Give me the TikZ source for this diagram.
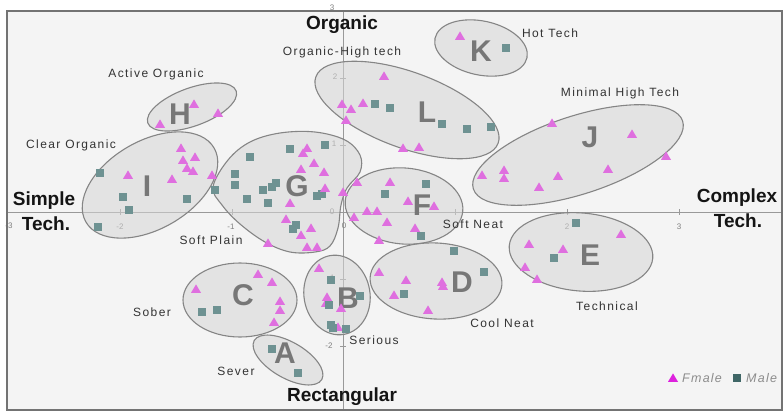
\documentclass[tikz,border=0pt]{standalone}
\usepackage{fontspec}
\setmainfont{Liberation Sans}
\newfontfamily\lblfont[LetterSpace=12]{Liberation Sans}
\newfontfamily\legfont[LetterSpace=10]{Liberation Sans}
\definecolor{tric}{HTML}{DF6FDF}
\definecolor{sqc}{HTML}{6E9292}
\definecolor{trileg}{HTML}{DD22DD}
\definecolor{sqleg}{HTML}{3F6666}
\definecolor{ellc}{HTML}{858585}
\definecolor{ellfill}{HTML}{D6D6D6}
\definecolor{plotbg}{HTML}{F4F4F4}
\definecolor{clug}{HTML}{777777}
\newcommand\ptT[2]{\fill[tric] (#1,#2) +(0,-4.6) -- +(5,3.8) -- +(-5,3.8) -- cycle;}
\newcommand\ptS[2]{\fill[sqc] (#1,#2) +(-3.8,-3.8) rectangle +(3.8,3.8);}
\tikzset{
  lbl/.style={font=\lblfont\fontsize{12}{14}\selectfont, text=black!80, inner sep=0pt},
  big/.style={font=\bfseries\fontsize{19}{21}\selectfont, text=black!92, inner sep=0pt},
  clu/.style={font=\bfseries\fontsize{30}{32}\selectfont, text=clug, inner sep=0pt},
  ticklbl/.style={font=\fontsize{8}{9}\selectfont, text=black!50, inner sep=0pt},
  leg/.style={font=\legfont\itshape\fontsize{12.5}{14}\selectfont, text=black!45, inner sep=0pt},
  blob/.style={draw=ellc, fill=ellfill, fill opacity=.55, draw opacity=1, line width=1.1pt},
  axis/.style={draw=black!40, line width=0.7pt},
}
\begin{document}
\begin{tikzpicture}[x=1pt,y=-1pt]
\useasboundingbox (0,0) rectangle (783,412);
\fill[white] (0,0) rectangle (783,412);
\fill[plotbg] (7,11) rectangle (782,410);
% axes
\draw[axis] (7,212) -- (782,212);
\draw[axis] (343,11) -- (343,410);
\foreach \x in {120,232,455,567,679} {\draw[axis] (\x,209) -- (\x,215);}
\foreach \y in {11,78,145,279,346} {\draw[axis] (340,\y) -- (346,\y);}
\node[ticklbl] (tx1) at (9,226) {-3};
\node[ticklbl] (tx2) at (120,227) {-2};
\node[ticklbl] (tx3) at (231,227) {-1};
\node[ticklbl] (tx4) at (344,226) {0};
\node[ticklbl] (tx5) at (567,227) {2};
\node[ticklbl] (tx6) at (679,227) {3};
\node[ticklbl] (ty1) at (332,8) {3};
\node[ticklbl] (ty2) at (335,77) {2};
\node[ticklbl] (ty3) at (334,144) {1};
\node[ticklbl] (ty4) at (332,212) {0};
\node[ticklbl] (ty5) at (331,278) {-1};
\node[ticklbl] (ty6) at (329,346) {-2};
% clusters
\draw[blob, rotate around={-12:(481,48)}] (481,48) ellipse [x radius=47, y radius=27];
\draw[blob, rotate around={-20:(407,110)}] (407,110) ellipse [x radius=97, y radius=38];
\draw[blob, rotate around={18:(578,155)}] (578,155) ellipse [x radius=110, y radius=39];
\draw[blob, rotate around={20:(192,107)}] (192,107) ellipse [x radius=47, y radius=19];
\draw[blob, rotate around={30:(150,185)}] (150,185) ellipse [x radius=74, y radius=44];
\draw[blob] plot[smooth cycle, tension=0.6] coordinates {(213,187) (222,205) (240,224) (265,242) (290,252) (315,252) (330,246) (338,228) (341,205) (347,188) (360,172) (360,155) (345,140) (315,132) (280,133) (250,142) (228,160)};
\draw[blob, rotate around={-5:(404,206)}] (404,206) ellipse [x radius=59, y radius=38];
\draw[blob, rotate around={-5:(581,252)}] (581,252) ellipse [x radius=72, y radius=39];
\draw[blob, rotate around={-3:(436,281)}] (436,281) ellipse [x radius=66, y radius=38];
\draw[blob] (240,300) ellipse [x radius=57, y radius=37];
\draw[blob, rotate around={10:(337,295)}] (337,295) ellipse [x radius=33, y radius=40];
\draw[blob, rotate around={-30:(288,360)}] (288,360) ellipse [x radius=39, y radius=18];
% cluster letters
\node[clu] (cK) at (481,51) {K};
\node[clu] (cL) at (427,112) {L};
\node[clu] (cH) at (180,114) {H};
\node[clu] (cI) at (147,186) {I};
\node[clu] (cG) at (297,186) {G};
\node[clu] (cJ) at (590,137) {J};
\node[clu] (cF) at (422,205) {F};
\node[clu] (cE) at (590,255) {E};
\node[clu] (cD) at (462,282) {D};
\node[clu] (cC) at (243,295) {C};
\node[clu] (cB) at (348,298) {B};
\node[clu] (cA) at (285,353) {A};
% points K, L
\ptT{460}{36} \ptS{506}{48}
\ptT{384}{76} \ptT{342}{104} \ptT{351}{109} \ptT{363}{103} \ptT{346}{120} \ptT{403}{148} \ptT{419}{147}
\ptS{375}{104} \ptS{390}{108} \ptS{442}{124} \ptS{467}{129} \ptS{491}{127}
% H
\ptT{160}{124} \ptT{194}{104} \ptT{218}{113}
% I
\ptT{181}{148} \ptT{195}{157} \ptT{183}{160} \ptT{187}{168} \ptT{193}{171} \ptT{172}{179} \ptT{128}{175} \ptT{212}{175}
\ptS{100}{173} \ptS{123}{197} \ptS{129}{210} \ptS{98}{227} \ptS{187}{199}
% G
\ptS{215}{190} \ptS{250}{157} \ptS{290}{149} \ptS{325}{145} \ptS{235}{174} \ptS{235}{185} \ptS{263}{190} \ptS{272}{187} \ptS{276}{183} \ptS{247}{199} \ptS{268}{203} \ptS{317}{196} \ptS{322}{194} \ptS{293}{229} \ptS{296}{225}
\ptT{307}{148} \ptT{303}{153} \ptT{314}{163} \ptT{301}{169} \ptT{324}{172} \ptT{325}{188} \ptT{290}{203} \ptT{343}{192} \ptT{357}{182} \ptT{286}{219} \ptT{311}{228} \ptT{301}{235} \ptT{268}{243} \ptT{307}{247} \ptT{317}{247}
% F
\ptT{390}{182} \ptT{408}{201} \ptT{434}{206} \ptT{367}{211} \ptT{377}{211} \ptT{354}{217} \ptT{387}{222} \ptT{415}{228} \ptT{379}{240}
\ptS{426}{184} \ptS{385}{194} \ptS{421}{236}
% D
\ptS{454}{251} \ptS{484}{272} \ptS{404}{294}
\ptT{379}{272} \ptT{406}{280} \ptT{442}{282} \ptT{443}{286} \ptT{394}{295} \ptT{428}{310}
% E
\ptS{576}{223} \ptS{554}{258}
\ptT{529}{244} \ptT{563}{249} \ptT{621}{234} \ptT{525}{267} \ptT{537}{279}
% J
\ptT{552}{123} \ptT{632}{134} \ptT{666}{156} \ptT{482}{175} \ptT{504}{170} \ptT{504}{178} \ptT{539}{187} \ptT{558}{176} \ptT{608}{169}
% C
\ptT{196}{289} \ptT{258}{274} \ptT{272}{282} \ptT{280}{301} \ptT{280}{310} \ptT{274}{322}
\ptS{202}{312} \ptS{217}{310}
% B
\ptT{319}{268} \ptT{327}{297} \ptT{326}{303} \ptT{341}{308} \ptT{338}{327}
\ptS{331}{280} \ptS{360}{296} \ptS{329}{305} \ptS{331}{325} \ptS{333}{328} \ptS{346}{329}
% A
\ptS{272}{349} \ptS{298}{373}
% labels
\node[big] (nOrg) at (342,25) {Organic};
\node[big] (nRect) at (342,397) {Rectangular};
\node[big] (nSimple) at (44,201) {Simple};
\node[big] (nSimpleT) at (46,224) {Tech.};
\node[big] (nComplex) at (737,198) {Complex};
\node[big] (nComplexT) at (738,221) {Tech.};
\node[lbl] (lOH) at (342,52) {Organic-High tech};
\node[lbl] (lHot) at (550,33) {Hot Tech};
\node[lbl] (lMin) at (620,93) {Minimal High Tech};
\node[lbl] (lAct) at (156,74) {Active Organic};
\node[lbl] (lClear) at (71,145) {Clear Organic};
\node[lbl] (lSP) at (211,240) {Soft Plain};
\node[lbl] (lSN) at (473,224) {Soft Neat};
\node[lbl] (lSob) at (152,312) {Sober};
\node[lbl] (lSev) at (236,371) {Sever};
\node[lbl] (lSer) at (374,340) {Serious};
\node[lbl] (lCN) at (502,323) {Cool Neat};
\node[lbl] (lTech) at (607,306) {Technical};
% legend
\fill[trileg] (673,378) +(0,-4.6) -- +(5,3.8) -- +(-5,3.8) -- cycle;
\node[leg, anchor=west] (legF) at (682,378) {Fmale};
\fill[sqleg] (737,378) +(-3.6,-3.6) rectangle +(3.6,3.6);
\node[leg, anchor=west] (legM) at (746,378) {Male};
% frame
\draw[draw=black!55, line width=1.3pt] (7,11) rectangle (782,410);
\end{tikzpicture}
\end{document}
